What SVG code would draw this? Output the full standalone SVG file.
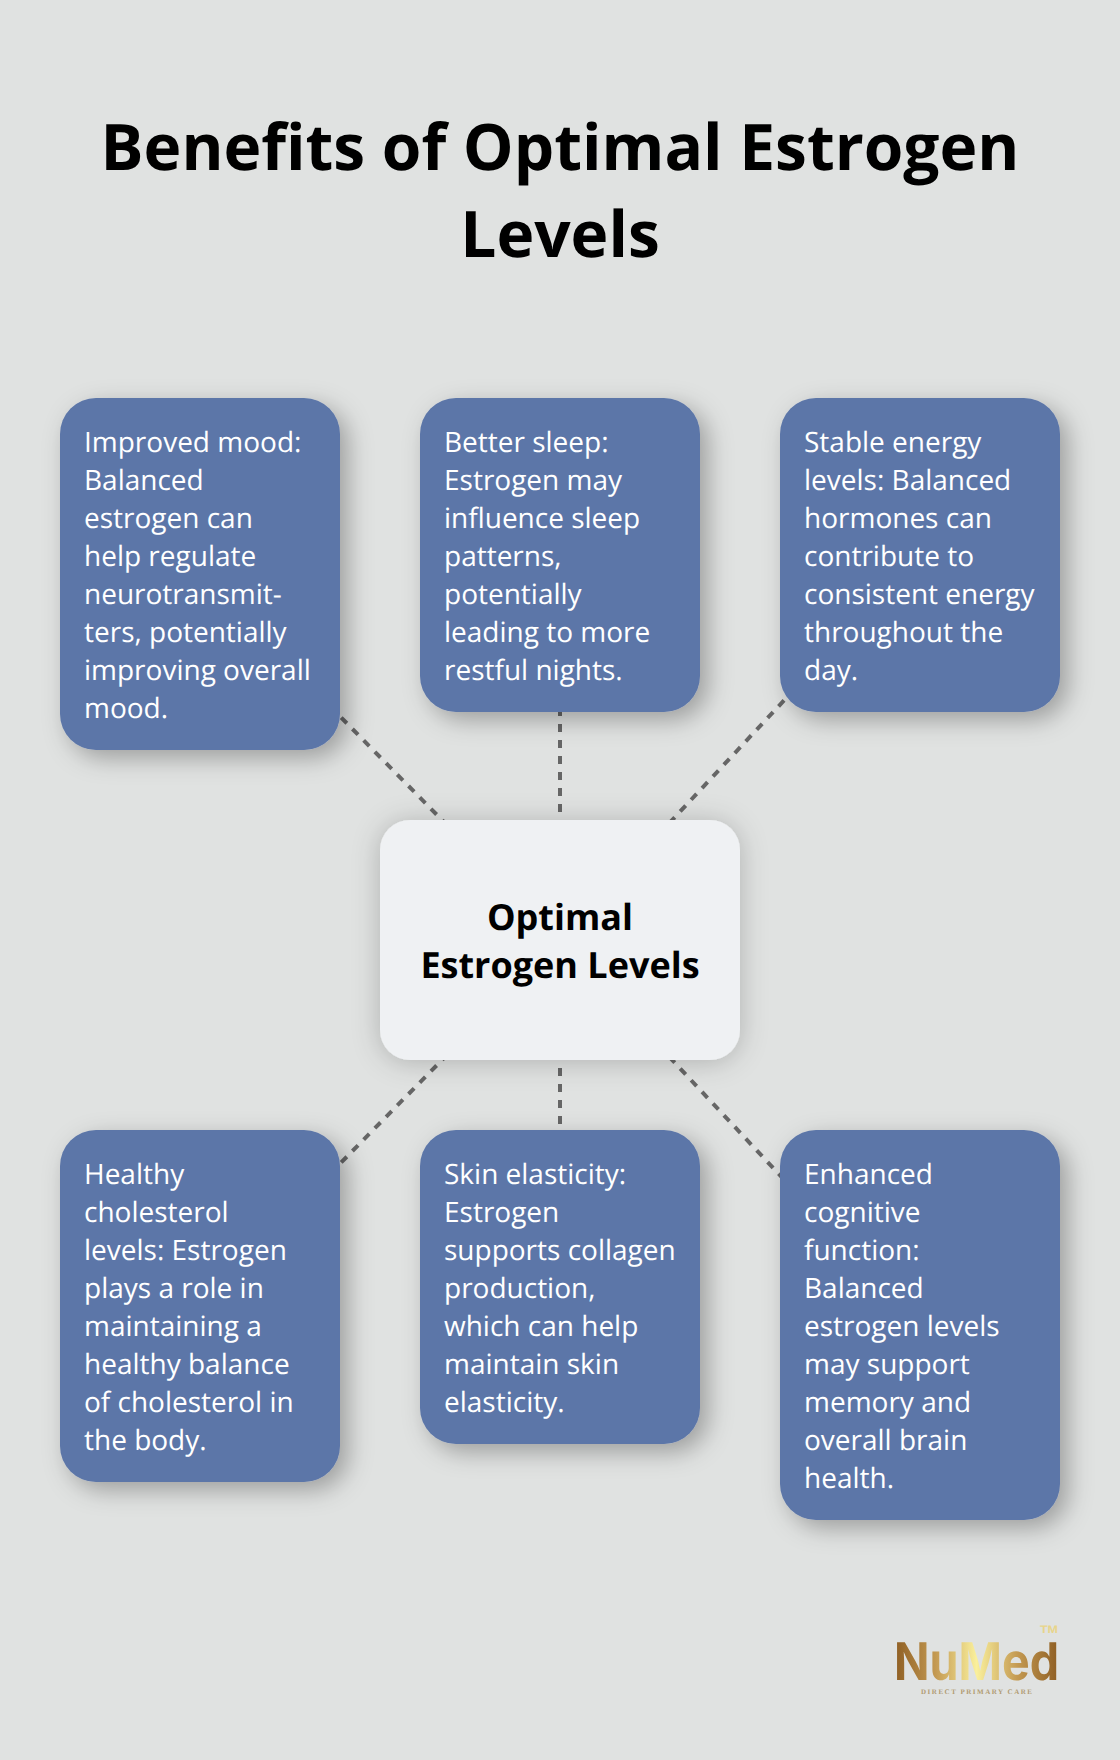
<svg xmlns="http://www.w3.org/2000/svg" width="1120" height="1760" viewBox="0 0 1120 1760">
<style>
text{font-family:"Open Sans","Noto Sans",sans-serif;text-rendering:geometricPrecision}
.title{font-size:64px;font-weight:700;fill:#000;text-anchor:middle}
.card rect{fill:#5c76a8;filter:url(#sh)}
.card text{font-size:28px;fill:#fff}
.hub rect{fill:#eff1f3;filter:url(#shc)}
.hub text{font-size:36px;font-weight:700;fill:#000;text-anchor:middle}
#connectors line{stroke:#666;stroke-width:4;stroke-dasharray:8 8;fill:none}
</style>
<defs>
<filter id="sh" x="-30%" y="-30%" width="170%" height="170%"><feDropShadow dx="8" dy="8" stdDeviation="12" flood-color="#000" flood-opacity="0.3"/></filter>
<filter id="shc" x="-30%" y="-30%" width="160%" height="170%"><feDropShadow dx="0" dy="2" stdDeviation="14" flood-color="#000" flood-opacity="0.22"/></filter>
<linearGradient id="gold" gradientUnits="userSpaceOnUse" x1="895" y1="0" x2="1058" y2="0">
<stop offset="0" stop-color="#8f5f24"/><stop offset="0.25" stop-color="#c49a52"/><stop offset="0.5" stop-color="#faf09c"/><stop offset="0.75" stop-color="#c49a52"/><stop offset="1" stop-color="#8f5f24"/></linearGradient>
</defs>
<rect width="1120" height="1760" fill="#e0e2e1"/>
<text class="title" x="560" y="170">Benefits of Optimal Estrogen</text>
<text class="title" x="560" y="257">Levels</text>
<g id="connectors">
<line x1="560" y1="940" x2="200" y2="574"/>
<line x1="560" y1="940" x2="560" y2="555"/>
<line x1="560" y1="940" x2="920" y2="555"/>
<line x1="560" y1="940" x2="200" y2="1306"/>
<line x1="560" y1="940" x2="560" y2="1286"/>
<line x1="560" y1="940" x2="920" y2="1325"/>
</g>
<g id="n1" class="card"><rect x="60" y="398" width="280" height="352" rx="36"/>
<text x="84" y="452">Improved mood:</text><text x="84" y="490">Balanced</text><text x="84" y="528">estrogen can</text><text x="84" y="566">help regulate</text><text x="84" y="604">neurotransmit-</text><text x="84" y="642">ters, potentially</text><text x="84" y="680">improving overall</text><text x="84" y="718">mood.</text></g>
<g id="n2" class="card"><rect x="420" y="398" width="280" height="314" rx="36"/>
<text x="444" y="452">Better sleep:</text><text x="444" y="490">Estrogen may</text><text x="444" y="528">influence sleep</text><text x="444" y="566">patterns,</text><text x="444" y="604">potentially</text><text x="444" y="642">leading to more</text><text x="444" y="680">restful nights.</text></g>
<g id="n3" class="card"><rect x="780" y="398" width="280" height="314" rx="36"/>
<text x="804" y="452">Stable energy</text><text x="804" y="490">levels: Balanced</text><text x="804" y="528">hormones can</text><text x="804" y="566">contribute to</text><text x="804" y="604">consistent energy</text><text x="804" y="642">throughout the</text><text x="804" y="680">day.</text></g>
<g id="hub" class="hub"><rect x="380" y="820" width="360" height="240" rx="30"/>
<text x="560" y="930">Optimal</text><text x="560" y="978">Estrogen Levels</text></g>
<g id="n4" class="card"><rect x="60" y="1130" width="280" height="352" rx="36"/>
<text x="84" y="1184">Healthy</text><text x="84" y="1222">cholesterol</text><text x="84" y="1260">levels: Estrogen</text><text x="84" y="1298">plays a role in</text><text x="84" y="1336">maintaining a</text><text x="84" y="1374">healthy balance</text><text x="84" y="1412">of cholesterol in</text><text x="84" y="1450">the body.</text></g>
<g id="n5" class="card"><rect x="420" y="1130" width="280" height="314" rx="36"/>
<text x="444" y="1184">Skin elasticity:</text><text x="444" y="1222">Estrogen</text><text x="444" y="1260">supports collagen</text><text x="444" y="1298">production,</text><text x="444" y="1336">which can help</text><text x="444" y="1374">maintain skin</text><text x="444" y="1412">elasticity.</text></g>
<g id="n6" class="card"><rect x="780" y="1130" width="280" height="390" rx="36"/>
<text x="804" y="1184">Enhanced</text><text x="804" y="1222">cognitive</text><text x="804" y="1260">function:</text><text x="804" y="1298">Balanced</text><text x="804" y="1336">estrogen levels</text><text x="804" y="1374">may support</text><text x="804" y="1412">memory and</text><text x="804" y="1450">overall brain</text><text x="804" y="1488">health.</text></g>
<g id="logo">
<text x="894" y="1680" textLength="165" lengthAdjust="spacingAndGlyphs" style="font-family:'Inter','Liberation Sans',sans-serif;font-size:52px;font-weight:700;fill:url(#gold)">NuMed</text>
<text x="1040" y="1633" textLength="18" lengthAdjust="spacingAndGlyphs" style="font-family:'Liberation Sans',sans-serif;font-size:11px;font-weight:700;fill:#e8d58a">TM</text>
<text x="921" y="1694" textLength="111" style="font-family:'Liberation Serif',serif;font-size:7px;font-weight:700;fill:#b09a70">DIRECT PRIMARY CARE</text>
</g>
</svg>
